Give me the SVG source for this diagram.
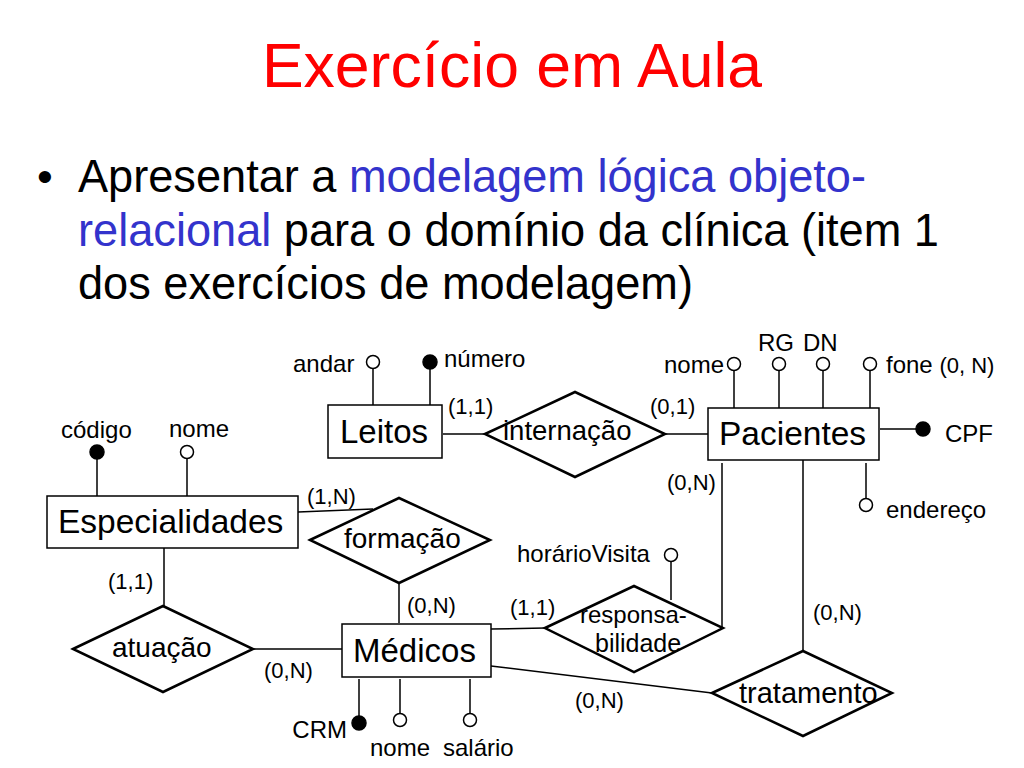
<svg xmlns="http://www.w3.org/2000/svg" width="1024" height="768" viewBox="0 0 1024 768">
<style>
text{font-family:"Liberation Sans",Arial,sans-serif;fill:#000}
.ent{fill:#fff;stroke:#000;stroke-width:1.5}
.rel{fill:#fff;stroke:#000;stroke-width:2.5;stroke-linejoin:miter}
.ln{stroke:#000;stroke-width:1.5;fill:none}
.att{fill:#fff;stroke:#000;stroke-width:1.5}
.key{fill:#000;stroke:#000;stroke-width:1.5}
.en{font-size:33px}
.rn{font-size:28px}
.an{font-size:24px}
.cd{font-size:22px}
.bl{font-size:47px}
.blue{fill:#3333CC}
</style>
<rect width="1024" height="768" fill="#fff"/>
<text x="512" y="87" text-anchor="middle" style="font-size:62.5px;fill:#FF0000">Exercício em Aula</text>
<text x="37" y="192" style="font-size:45px">•</text>
<text class="bl" x="78" y="192" textLength="788" lengthAdjust="spacingAndGlyphs">Apresentar a <tspan class="blue">modelagem lógica objeto-</tspan></text>
<text class="bl" x="78" y="246" textLength="861" lengthAdjust="spacingAndGlyphs"><tspan class="blue">relacional</tspan> para o domínio da clínica (item 1</text>
<text class="bl" x="78" y="299" textLength="615" lengthAdjust="spacingAndGlyphs">dos exercícios de modelagem)</text>

<g id="connectors">
<line class="ln" x1="373" y1="368" x2="373" y2="405"/>
<line class="ln" x1="430" y1="369" x2="430" y2="405"/>
<line class="ln" x1="443" y1="434" x2="485" y2="434"/>
<line class="ln" x1="665" y1="434" x2="708" y2="434"/>
<line class="ln" x1="734" y1="370" x2="734" y2="408"/>
<line class="ln" x1="779" y1="370" x2="779" y2="408"/>
<line class="ln" x1="823" y1="370" x2="823" y2="408"/>
<line class="ln" x1="870" y1="370" x2="870" y2="408"/>
<line class="ln" x1="880" y1="429" x2="916" y2="429"/>
<line class="ln" x1="866" y1="463" x2="866" y2="498"/>
<line class="ln" x1="722" y1="463" x2="722" y2="628"/>
<line class="ln" x1="803" y1="460" x2="803" y2="651"/>
<line class="ln" x1="97" y1="459" x2="97" y2="496"/>
<line class="ln" x1="187" y1="459" x2="187" y2="496"/>
<line class="ln" x1="298" y1="512" x2="373" y2="509"/>
<line class="ln" x1="399" y1="583" x2="399" y2="623"/>
<line class="ln" x1="164" y1="548" x2="164" y2="606"/>
<line class="ln" x1="253" y1="649" x2="342" y2="649"/>
<line class="ln" x1="359" y1="679" x2="359" y2="716"/>
<line class="ln" x1="400" y1="679" x2="400" y2="713"/>
<line class="ln" x1="470" y1="679" x2="470" y2="713"/>
<line class="ln" x1="491" y1="629" x2="545" y2="628"/>
<line class="ln" x1="491" y1="666" x2="712" y2="693"/>
<line class="ln" x1="671" y1="561" x2="671" y2="600"/>
</g>

<g id="Leitos">
<rect class="ent" x="328" y="405" width="114" height="53"/>
<text class="en" x="340" y="443">Leitos</text>
</g>
<g id="Leitos-andar">
<circle class="att" cx="373" cy="362" r="6.5"/>
<text class="an" x="293" y="372">andar</text>
</g>
<g id="Leitos-numero">
<circle class="key" cx="430" cy="362" r="7"/>
<text class="an" x="444" y="367">número</text>
</g>

<g id="Pacientes">
<rect class="ent" x="708" y="408" width="171" height="52"/>
<text class="en" x="719" y="445" style="font-size:33.5px">Pacientes</text>
</g>
<g id="Pacientes-nome">
<circle class="att" cx="734" cy="364" r="6.5"/>
<text class="an" x="724" y="373" text-anchor="end">nome</text>
</g>
<g id="Pacientes-RG">
<circle class="att" cx="779" cy="364" r="6.5"/>
<text class="an" x="758" y="351">RG</text>
</g>
<g id="Pacientes-DN">
<circle class="att" cx="823" cy="364" r="6.5"/>
<text class="an" x="803" y="351">DN</text>
</g>
<g id="Pacientes-fone">
<circle class="att" cx="870" cy="364" r="6.5"/>
<text class="an" x="886" y="373">fone <tspan style="font-size:22px">(0, N)</tspan></text>
</g>
<g id="Pacientes-CPF">
<circle class="key" cx="923" cy="429" r="7"/>
<text class="an" x="945" y="442">CPF</text>
</g>
<g id="Pacientes-endereco">
<circle class="att" cx="866" cy="505" r="6.5"/>
<text class="an" x="886" y="518">endereço</text>
</g>

<g id="Especialidades">
<rect class="ent" x="47" y="496" width="251" height="52"/>
<text class="en" x="58" y="533" style="font-size:33.5px">Especialidades</text>
</g>
<g id="Especialidades-codigo">
<circle class="key" cx="97" cy="452" r="7"/>
<text class="an" x="61" y="438">código</text>
</g>
<g id="Especialidades-nome">
<circle class="att" cx="187" cy="452" r="6.5"/>
<text class="an" x="169" y="437">nome</text>
</g>

<g id="Medicos">
<rect class="ent" x="342" y="624" width="149" height="53"/>
<text class="en" x="353" y="662">Médicos</text>
</g>
<g id="Medicos-CRM">
<circle class="key" cx="359" cy="723" r="7"/>
<text class="an" x="347" y="738" text-anchor="end">CRM</text>
</g>
<g id="Medicos-nome">
<circle class="att" cx="400" cy="720" r="6.5"/>
<text class="an" x="370" y="756">nome</text>
</g>
<g id="Medicos-salario">
<circle class="att" cx="470" cy="720" r="6.5"/>
<text class="an" x="443" y="756">salário</text>
</g>

<g id="internacao">
<polygon class="rel" points="485,434 575,392 665,434 575,477"/>
<text class="rn" x="503" y="440" style="font-size:27.5px">internação</text>
</g>
<g id="formacao">
<polygon class="rel" points="310,540 399,498 490,540 399,583"/>
<text class="rn" x="344" y="548">formação</text>
</g>
<g id="atuacao">
<polygon class="rel" points="73,649 163,606 253,649 163,692"/>
<text class="rn" x="112" y="657">atuação</text>
</g>
<g id="responsabilidade">
<polygon class="rel" points="545,628 634,586 723,628 634,672"/>
<text x="580" y="623" style="font-size:24px">responsa-</text>
<text x="595" y="652" style="font-size:25px">bilidade</text>
</g>
<g id="horarioVisita">
<circle class="att" cx="671" cy="555" r="6.5"/>
<text class="an" x="517" y="562">horárioVisita</text>
</g>
<g id="tratamento">
<polygon class="rel" points="712,693 803,651 892,693 803,736"/>
<text class="rn" x="739" y="703" style="font-size:29px">tratamento</text>
</g>

<g id="cardinalities">
<text class="cd" x="448" y="414">(1,1)</text>
<text class="cd" x="650" y="414">(0,1)</text>
<text class="cd" x="667" y="490">(0,N)</text>
<text class="cd" x="307" y="504">(1,N)</text>
<text class="cd" x="108" y="589">(1,1)</text>
<text class="cd" x="264" y="678">(0,N)</text>
<text class="cd" x="407" y="613">(0,N)</text>
<text class="cd" x="510" y="615">(1,1)</text>
<text class="cd" x="575" y="708">(0,N)</text>
<text class="cd" x="813" y="620">(0,N)</text>
</g>
</svg>
